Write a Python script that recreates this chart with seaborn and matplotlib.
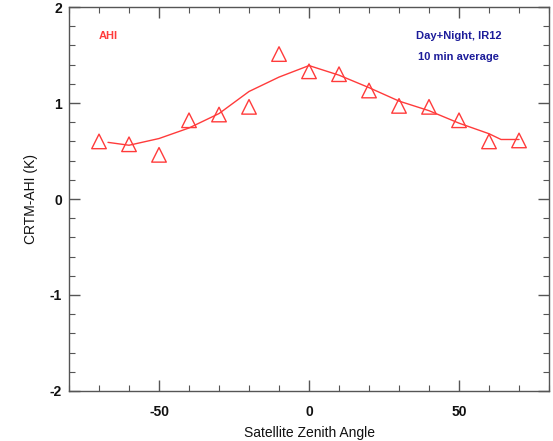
import matplotlib
matplotlib.use("Agg")
import matplotlib.pyplot as plt
from matplotlib.ticker import MultipleLocator
import seaborn as sns
import pandas as pd

# Observed bias per zenith-angle bin
angle_obs = [-70, -60, -50, -40, -30, -20, -10, 0, 10, 20, 30, 40, 50, 60, 70]
bias_obs = [0.60, 0.57, 0.46, 0.82, 0.88, 0.96, 1.51, 1.33, 1.30, 1.13, 0.97, 0.96, 0.82, 0.60, 0.61]

# Smoothed fit
angle_fit = [-67, -60, -50, -40, -30, -20, -10, 0, 10, 20, 30, 40, 50, 60, 64, 70]
bias_fit = [0.59, 0.56, 0.63, 0.74, 0.89, 1.12, 1.27, 1.39, 1.29, 1.16, 1.02, 0.92, 0.79, 0.68, 0.62, 0.62]

RED = "#ff3b3b"
NAVY = "#1c1c9a"

sns.set_style("ticks")
plt.rcParams["font.family"] = ["Liberation Sans", "DejaVu Sans"]
plt.rcParams["axes.unicode_minus"] = False

fig = plt.figure(figsize=(5.53, 4.41), dpi=100)
ax = fig.add_axes([0.1248, 0.1134, 0.868, 0.8707])

obs = pd.DataFrame({"angle": angle_obs, "bias": bias_obs})
fit = pd.DataFrame({"angle": angle_fit, "bias": bias_fit})

sns.lineplot(data=fit, x="angle", y="bias", ax=ax, color=RED, linewidth=1.0, sort=False)
sns.scatterplot(data=obs, x="angle", y="bias", ax=ax, marker="^", s=110,
                color=RED, linewidth=1.0)
pts = ax.collections[-1]
pts.set_facecolor("none")
pts.set_edgecolor(RED)

ax.set_xlim(-80, 80)
ax.set_ylim(-2, 2)
ax.xaxis.set_major_locator(MultipleLocator(50))
ax.xaxis.set_minor_locator(MultipleLocator(10))
ax.yaxis.set_major_locator(MultipleLocator(1))
ax.yaxis.set_minor_locator(MultipleLocator(0.2))
ax.tick_params(which="both", direction="in", top=True, right=True, colors="#555555",
               labelcolor="#111111", labelsize=10)
ax.tick_params(which="major", length=8, width=1)
ax.tick_params(which="minor", length=4, width=0.8)
ax.tick_params(axis="x", pad=10)
ax.tick_params(axis="y", pad=5)
for lbl in ax.get_xticklabels() + ax.get_yticklabels():
    lbl.set_fontweight("bold")
for sp in ax.spines.values():
    sp.set_visible(True)
    sp.set_color("#555555")
    sp.set_linewidth(1.0)

ax.set_xlabel("Satellite Zenith Angle", fontsize=10, color="#111111")
ax.set_ylabel("CRTM-AHI (K)", fontsize=10, color="#111111")
ax.xaxis.set_label_coords(0.5, -0.091)
ax.yaxis.set_label_coords(-0.065, 0.5)

ax.text(0.081, 0.924, "AHI", transform=ax.transAxes, color=RED, fontsize=8,
        fontweight="bold", ha="center", va="center")
ax.text(0.8125, 0.924, "Day+Night, IR12", transform=ax.transAxes, color=NAVY,
        fontsize=8, fontweight="bold", ha="center", va="center")
ax.text(0.812, 0.870, "10 min average", transform=ax.transAxes, color=NAVY,
        fontsize=8, fontweight="bold", ha="center", va="center")

fig.savefig("out.png", dpi=100)
